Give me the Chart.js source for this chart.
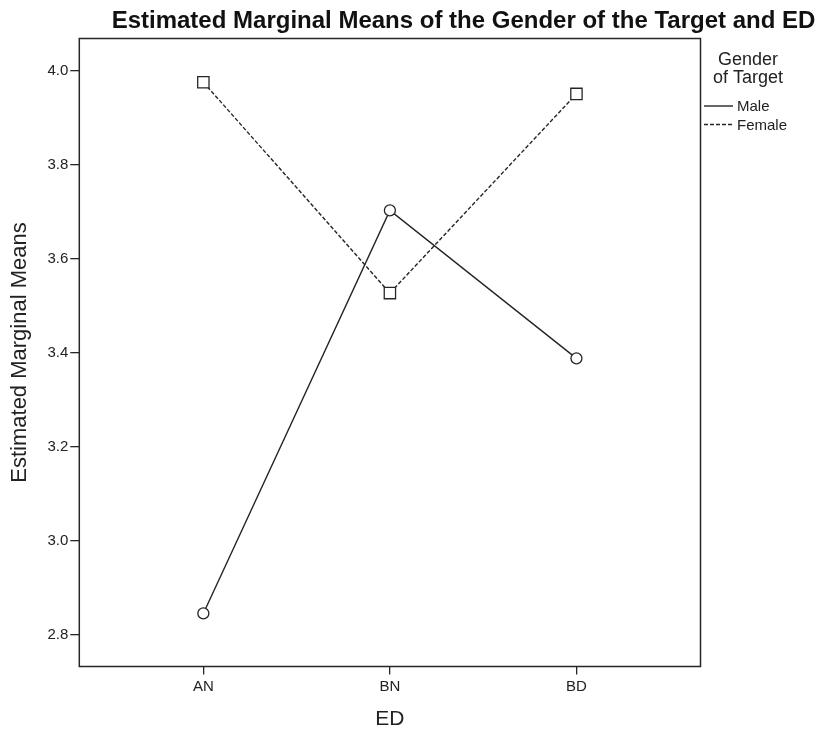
<!DOCTYPE html>
<html>
<head>
<meta charset="utf-8">
<script src="https://cdn.jsdelivr.net/npm/chart.js@4.4.1/dist/chart.umd.min.js"></script>
<style>
  html, body { margin: 0; padding: 0; background: #fff; }
  #chart { display: block; }
</style>
</head>
<body>
<canvas id="chart" width="818" height="730"></canvas>
<script>
// values
const categories = ['AN', 'BN', 'BD']
const maleMeans = [2.845, 3.703, 3.388]
const femaleMeans = [3.976, 3.527, 3.951]
const yTicks = [2.8, 3.0, 3.2, 3.4, 3.6, 3.8, 4.0]
const legendTitle = ['Gender', 'of Target']

const ink = '#262626'
const font = "'Liberation Sans', Arial, sans-serif"

function toPoints(vals) {
  return vals.map((v, i) => ({ x: i, y: v }))
}

// frame round the plot area, title and legend box
const decor = {
  id: 'decor',
  afterDraw(chart) {
    const ctx = chart.ctx
    const a = chart.chartArea
    ctx.save()
    ctx.strokeStyle = ink
    ctx.lineWidth = 1.5
    ctx.strokeRect(a.left, a.top, a.right - a.left, a.bottom - a.top)

    ctx.fillStyle = '#111'
    ctx.font = 'bold 24px ' + font
    ctx.textAlign = 'center'
    ctx.textBaseline = 'alphabetic'
    ctx.fillText('Estimated Marginal Means of the Gender of the Target and ED', 463.5, 28)

    ctx.font = '18px ' + font
    ctx.fillStyle = '#222'
    ctx.fillText(legendTitle[0], 748, 65)
    ctx.fillText(legendTitle[1], 748, 83)

    ctx.font = '15px ' + font
    ctx.textAlign = 'left'
    ctx.textBaseline = 'middle'
    chart.data.datasets.forEach((ds, i) => {
      const y = 106 + i * 18.5
      ctx.strokeStyle = ink
      ctx.lineWidth = 1.4
      ctx.setLineDash(ds.borderDash || [])
      ctx.beginPath()
      ctx.moveTo(704, y)
      ctx.lineTo(733, y)
      ctx.stroke()
      ctx.setLineDash([])
      ctx.fillText(ds.label, 737, y + 1)
    })
    ctx.restore()
  }
}

const myChart = new Chart(document.getElementById('chart'), {
  type: 'line',
  data: {
    datasets: [
      {
        label: 'Male',
        data: toPoints(maleMeans),
        borderColor: ink,
        borderWidth: 1.4,
        pointStyle: 'circle',
        pointRadius: 5.5,
        pointBackgroundColor: '#fff',
        pointBorderColor: ink,
        pointBorderWidth: 1.3,
        tension: 0
      },
      {
        label: 'Female',
        data: toPoints(femaleMeans),
        borderColor: ink,
        borderWidth: 1.4,
        borderDash: [4, 2],
        pointStyle: 'rect',
        pointRadius: 8,
        pointBackgroundColor: '#fff',
        pointBorderColor: ink,
        pointBorderWidth: 1.3,
        tension: 0
      }
    ]
  },
  options: {
    responsive: false,
    animation: false,
    layout: { padding: { top: 38.5, right: 117.5, left: 0, bottom: 0 } },
    plugins: { legend: { display: false }, tooltip: { enabled: false } },
    scales: {
      x: {
        type: 'linear',
        min: -0.665,
        max: 2.665,
        afterBuildTicks: (axis) => { axis.ticks = categories.map((c, i) => ({ value: i })) },
        afterFit: (axis) => { axis.height = 63.5 },
        border: { display: false },
        grid: { drawOnChartArea: false, drawTicks: true, tickLength: 8, color: ink, lineWidth: 1.3 },
        ticks: {
          color: '#222',
          font: { family: font, size: 15 },
          padding: 3,
          maxRotation: 0,
          callback: (v) => categories[v]
        },
        title: {
          display: true,
          text: 'ED',
          color: '#222',
          font: { family: font, size: 21 },
          padding: { top: 0, bottom: -2 }
        }
      },
      y: {
        min: 2.732,
        max: 4.069,
        afterBuildTicks: (axis) => { axis.ticks = yTicks.map(v => ({ value: v })) },
        afterFit: (axis) => { axis.width = 79.3 },
        border: { display: false },
        grid: { drawOnChartArea: false, drawTicks: true, tickLength: 9, color: ink, lineWidth: 1.3 },
        ticks: {
          color: '#222',
          font: { family: font, size: 15 },
          padding: 2,
          callback: (v) => v.toFixed(1)
        },
        title: {
          display: true,
          text: 'Estimated Marginal Means',
          color: '#222',
          font: { family: font, size: 22 },
          padding: { top: 7, bottom: 0 }
        }
      }
    }
  },
  plugins: [decor]
})
</script>
</body>
</html>
